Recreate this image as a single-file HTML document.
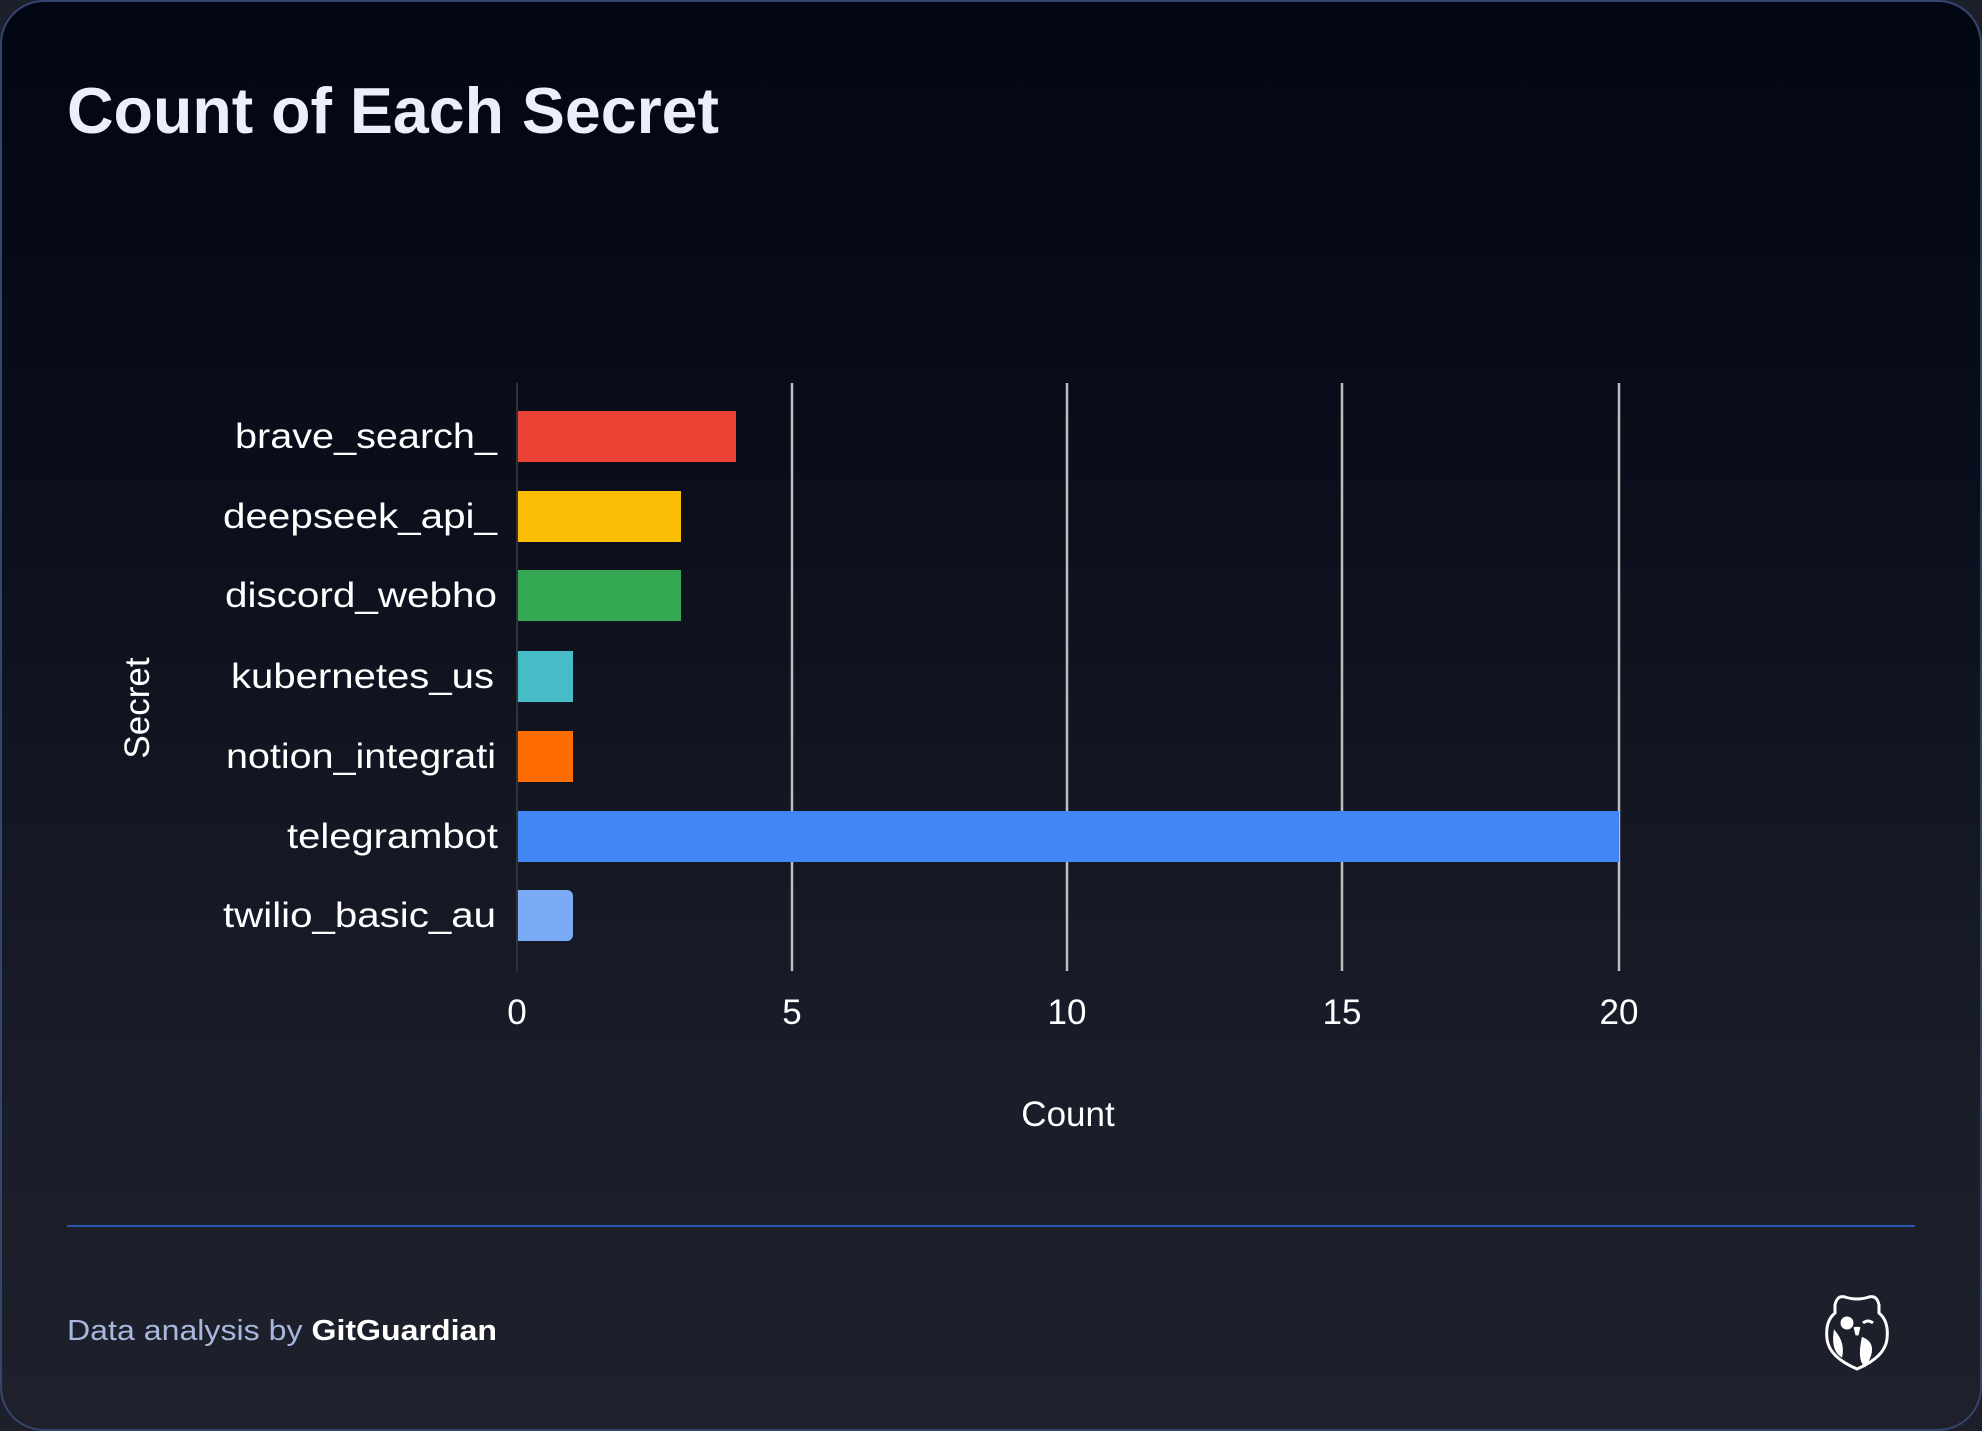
<!DOCTYPE html>
<html><head><meta charset="utf-8"><style>
html,body{margin:0;padding:0;background:#1d202b;}
.card{position:absolute;left:0;top:0;width:1978px;height:1427px;border:2px solid #34456e;border-radius:44px;background:linear-gradient(180deg,#020612 0%,#0b0f1c 35%,#1a1d29 75%,#1e212c 100%);overflow:hidden;}
svg{position:absolute;left:0;top:0;}
</style></head><body>
<div class="card"></div>
<svg width="1982" height="1431" viewBox="0 0 1982 1431" xmlns="http://www.w3.org/2000/svg" font-family="Liberation Sans, sans-serif">
<text x="67" y="133" font-size="65" font-weight="bold" fill="#eceefa" textLength="652" lengthAdjust="spacingAndGlyphs">Count of Each Secret</text>
<g stroke="#bdbdbd" stroke-width="2.5">
<line x1="792" y1="383" x2="792" y2="971"/>
<line x1="1067" y1="383" x2="1067" y2="971"/>
<line x1="1342" y1="383" x2="1342" y2="971"/>
<line x1="1619" y1="383" x2="1619" y2="971"/>
</g>
<line x1="517" y1="383" x2="517" y2="971" stroke="#333" stroke-width="2"/>
<rect x="518" y="411" width="218" height="51" fill="#ea4335"/>
<rect x="518" y="491" width="163" height="51" fill="#fbbc04"/>
<rect x="518" y="570" width="163" height="51" fill="#34a853"/>
<rect x="518" y="651" width="55" height="51" fill="#46bdc6"/>
<rect x="518" y="731" width="55" height="51" fill="#ff6d01"/>
<rect x="518" y="811" width="1101" height="51" fill="#4285f4"/>
<path d="M518 890 H567 a6 6 0 0 1 6 6 V935 a6 6 0 0 1 -6 6 H518 Z" fill="#7baaf7"/>
<g fill="#ffffff" font-size="35" text-anchor="end">
<text x="497" y="448" textLength="262" lengthAdjust="spacingAndGlyphs">brave_search_</text>
<text x="497" y="528" textLength="274" lengthAdjust="spacingAndGlyphs">deepseek_api_</text>
<text x="497" y="607" textLength="272" lengthAdjust="spacingAndGlyphs">discord_webho</text>
<text x="494" y="688" textLength="263" lengthAdjust="spacingAndGlyphs">kubernetes_us</text>
<text x="496" y="768" textLength="270" lengthAdjust="spacingAndGlyphs">notion_integrati</text>
<text x="498" y="848" textLength="211" lengthAdjust="spacingAndGlyphs">telegrambot</text>
<text x="496" y="927" textLength="273" lengthAdjust="spacingAndGlyphs">twilio_basic_au</text>
</g>
<g fill="#ffffff" font-size="35" text-anchor="middle">
<text x="517" y="1024">0</text>
<text x="792" y="1024">5</text>
<text x="1067" y="1024">10</text>
<text x="1342" y="1024">15</text>
<text x="1619" y="1024">20</text>
<text x="1068" y="1126">Count</text>
<text transform="translate(149,708) rotate(-90)">Secret</text>
</g>
<line x1="67" y1="1226" x2="1915" y2="1226" stroke="#2b55b0" stroke-width="2"/>
<text x="67" y="1340" font-size="29" fill="#a9b6de" textLength="430" lengthAdjust="spacingAndGlyphs">Data analysis by <tspan font-weight="bold" fill="#ffffff">GitGuardian</tspan></text>
<g transform="translate(1857,1331)" fill="none" stroke="#fff" stroke-width="3">
<path d="M-12 -34 Q0 -30 12 -34 Q20 -36 22 -26 L22 -18 Q32 -10 30 8 Q28 26 0 38 Q-28 26 -30 8 Q-32 -10 -22 -18 L-22 -26 Q-20 -36 -12 -34 Z"/>
<circle cx="-10" cy="-8" r="5" fill="#fff"/>
<path d="M6 -8 q5 -4 10 0"/>
<path d="M-2 -4 L0 4 L2 -4" fill="#fff"/>
<path d="M6 8 Q20 14 8 34 Q2 28 6 8 Z" fill="#fff"/>
<path d="M-22 2 Q-24 18 -16 24 Q-14 12 -22 2 Z" fill="#fff"/>
</g>
</svg>
</body></html>
